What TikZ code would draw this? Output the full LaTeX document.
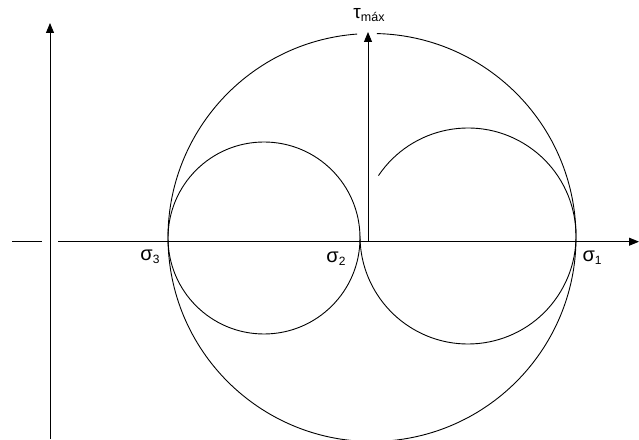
\documentclass[tikz,border=0pt]{standalone}
\usepackage{fontspec}
\setmainfont{Liberation Sans}
\usepackage{tikz}
\usetikzlibrary{arrows.meta,positioning}
\newcommand{\sigl}[1]{{\fontsize{20}{20}\selectfont σ}\raisebox{-3pt}{\fontsize{12}{12}\selectfont #1}}

\begin{document}
\begin{tikzpicture}[x=1pt, y=1pt,
    axis/.style={-{Triangle[length=10pt, width=8pt]}, line width=0.9pt},
    circ/.style={line width=0.9pt},
    lbl/.style={inner sep=0pt, anchor=center}
]
\useasboundingbox (0,0) rectangle (639,439);
\clip (0,0) rectangle (639,439);

\coordinate (xstart) at (12,197.3);
\coordinate (xgapl) at (42,197.3);
\coordinate (xgapr) at (58,197.3);
\coordinate (xend) at (639,197.3);
\coordinate (ybot) at (50,0);
\coordinate (ytop) at (50,416);
\coordinate (taubase) at (368,197.3);
\coordinate (tautop) at (368,407);
\coordinate (bigc) at (372,201.5);
\coordinate (leftc) at (264,201);
\coordinate (rightc) at (468,203);

\draw[circ] (xstart) -- (xgapl);
\draw[axis] (xgapr) -- (xend);
\draw[axis] (ybot) -- (ytop);
\draw[axis] (taubase) -- (tautop);

\draw[circ] (bigc) ++(94.2:204) arc[start angle=94.2, end angle=448.6, radius=204];
\draw[circ] (leftc) circle[radius=96];
\draw[circ] (rightc) ++(146:108) arc[start angle=146, end angle=-180, radius=108];

\foreach \name/\x/\y/\num in {s3/150/182/3, s2/336/180/2, s1/592/181/1}
    \node[lbl] (\name) at (\x,\y) {\sigl{\num}};
\node[lbl] (taumax) at (369,424) {{\fontsize{19}{19}\selectfont τ}\raisebox{-2.5pt}{\fontsize{12.5}{12.5}\selectfont máx}};
\end{tikzpicture}
\end{document}
